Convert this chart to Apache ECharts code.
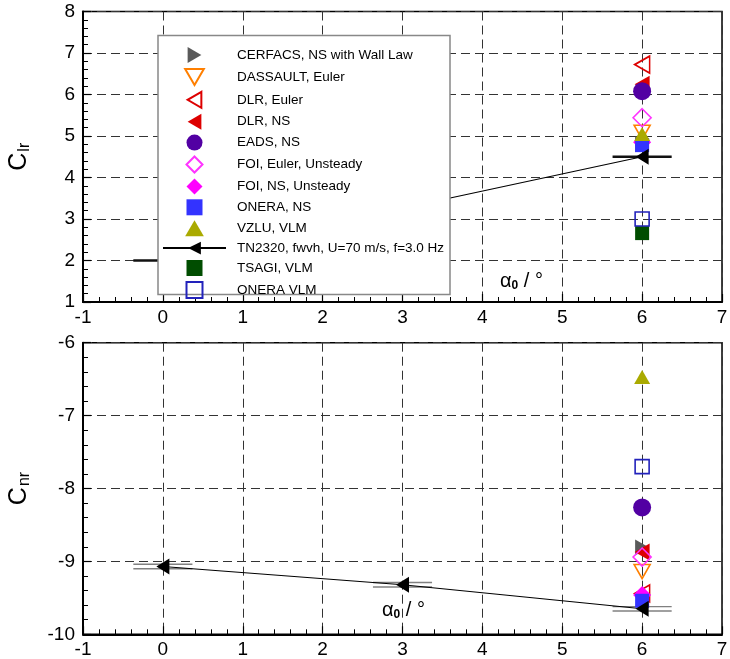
<!DOCTYPE html>
<html>
<head>
<meta charset="utf-8">
<script src="https://cdn.jsdelivr.net/npm/echarts@6/dist/echarts.min.js"></script>
<style>
  html, body { margin: 0; padding: 0; background: #fff; }
  #main { width: 730px; height: 659px; }
</style>
</head>
<body>
<div id="main"></div>
<script>
// TN2320 measurements (three incidences), horizontal error bar on alpha
var alpha = [0, 3, 6];
var tnClr = [2.0, 3.26, 4.5];
var tnCnr = [-9.07, -9.32, -9.65];
var tnAlphaErr = [0.37, 0.37, 0.37];

// partners' results, all at alpha = 6
var partners = ['CERFACS, NS with Wall Law', 'DASSAULT, Euler', 'DLR, Euler', 'DLR, NS',
    'EADS, NS', 'FOI, Euler, Unsteady', 'FOI, NS, Unsteady', 'ONERA, NS', 'VZLU, VLM',
    'TSAGI, VLM', 'ONERA VLM'];
var partnerAlpha = 6;
var partnerClr = [4.8, 5.09, 6.72, 6.25, 6.08, 5.44, 4.85, 4.78, 5.05, 2.66, 3.0];
var partnerCnr = [-8.81, -9.14, -9.44, -8.87, -8.26, -8.94, -9.46, -9.54, -6.47, null, -7.70];
var tnName = 'TN2320, fwvh, U=70 m/s, f=3.0 Hz';
var legendOrder = ['CERFACS, NS with Wall Law', 'DASSAULT, Euler', 'DLR, Euler', 'DLR, NS',
    'EADS, NS', 'FOI, Euler, Unsteady', 'FOI, NS, Unsteady', 'ONERA, NS', 'VZLU, VLM',
    tnName, 'TSAGI, VLM', 'ONERA VLM'];

var FONT = 'Liberation Sans, Arial, sans-serif';
var triRight = 'path://M0,0L12,7L0,14Z';
var triLeft = 'path://M12,0L0,7L12,14Z';
var triDown = 'path://M0,0L14,0L7,12Z';
var triUp = 'path://M7,0L14,12L0,12Z';
var diamond = 'path://M7,0L14,7L7,14L0,7Z';
var square = 'path://M0,0L14,0L14,14L0,14Z';
var clear = 'rgba(255,255,255,0)';

// look of each partner series: [symbol, size, fill, border]
var looks = [
    [triRight, [14, 16], '#5a5a5a', null],
    [triDown, [16, 14], clear, '#ff7f00'],
    [triLeft, [15, 17], clear, '#dd0000'],
    [triLeft, [15, 17], '#dd0000', null],
    ['circle', 18, '#5200a3', null],
    [diamond, 18, clear, '#ff33ff'],
    [diamond, 18, '#ff00ff', null],
    [square, 14, '#3333ff', null],
    [triUp, [16, 14], '#aaaa00', null],
    [square, 14, '#004d00', null],
    [square, 14, clear, '#2222bb']
];

function errBar(offsets, color, width) {
    return function (params, api) {
        var a = api.value(0), v = api.value(1), e = api.value(2);
        var p1 = api.coord([a - e, v]);
        var p2 = api.coord([a + e, v]);
        return {
            type: 'group',
            children: offsets.map(function (o) {
                return {
                    type: 'line',
                    shape: { x1: p1[0], y1: p1[1] + o, x2: p2[0], y2: p2[1] + o },
                    style: { stroke: color, lineWidth: width }
                };
            })
        };
    };
}

function makeXAxis(idx) {
    return {
        type: 'value', gridIndex: idx, min: -1, max: 7, interval: 1,
        axisLine: { show: true, onZero: false, lineStyle: { color: '#000', width: 2 } },
        axisTick: { show: true, inside: true, length: 8, lineStyle: { color: '#000', width: 1.2 } },
        minorTick: { show: true, splitNumber: 5, length: 5, lineStyle: { color: '#000', width: 1 } },
        axisLabel: { color: '#000', fontSize: 19, fontFamily: FONT, margin: 6 },
        splitLine: { show: true, lineStyle: { color: '#333', type: [9, 5], width: 1 } }
    };
}

function makeYAxis(idx, min, max, sub, gap) {
    return {
        type: 'value', gridIndex: idx, min: min, max: max, interval: 1,
        name: '{c|C}{s|' + sub + '}', nameLocation: 'middle', nameRotate: 90, nameGap: gap,
        nameTextStyle: {
            rich: {
                c: { fontSize: 25, fontFamily: FONT, color: '#000' },
                s: { fontSize: 16, fontFamily: FONT, color: '#000', padding: [11, 0, 0, 1] }
            }
        },
        axisLine: { show: true, onZero: false, lineStyle: { color: '#000', width: 2 } },
        axisTick: { show: true, inside: true, length: 8, lineStyle: { color: '#000', width: 1.2 } },
        minorTick: { show: true, splitNumber: 5, length: 5, lineStyle: { color: '#000', width: 1 } },
        axisLabel: { color: '#000', fontSize: 19, fontFamily: FONT, margin: 8 },
        splitLine: { show: true, lineStyle: { color: '#333', type: [9, 5], width: 1 } }
    };
}

var series = [];
[partnerClr, partnerCnr].forEach(function (vals, g) {
    partners.forEach(function (name, i) {
        var look = looks[i];
        if (vals[i] !== null) {
            series.push({
                name: name, type: 'scatter', xAxisIndex: g, yAxisIndex: g,
                symbol: look[0], symbolSize: look[1],
                itemStyle: {
                    color: look[2],
                    borderColor: look[3] || look[2],
                    borderWidth: look[3] ? 1.6 : 0,
                    opacity: 1
                },
                data: [[partnerAlpha, vals[i]]],
                z: 2
            });
        }
        // TN2320 goes in between VZLU and TSAGI, like in the legend
        if (name === 'VZLU, VLM') {
            var tnVals = g === 0 ? tnClr : tnCnr;
            series.push({
                name: 'errbar' + g, type: 'custom', xAxisIndex: g, yAxisIndex: g,
                renderItem: g === 0 ? errBar([0], '#111', 2.4) : errBar([-2.2, 2.2], '#808080', 1.4),
                data: alpha.map(function (a, k) { return [a, tnVals[k], tnAlphaErr[k]]; }),
                encode: { x: 0, y: 1 },
                z: 2
            });
            series.push({
                name: tnName, type: 'line', xAxisIndex: g, yAxisIndex: g,
                symbol: triLeft, symbolSize: [13, 16],
                itemStyle: { color: '#000' },
                lineStyle: { color: '#000', width: 1.1 },
                data: alpha.map(function (a, k) { return [a, tnVals[k]]; }),
                z: 2
            });
        }
    });
});

var alphaText = {
    text: '{a|α}{s|0}{a| / °}', fill: '#000',
    rich: {
        a: { fontSize: 20, fontFamily: FONT, fill: '#000' },
        s: { fontSize: 12, fontWeight: 'bold', fontFamily: FONT, fill: '#000', padding: [9, 0, 0, 0] }
    }
};

var chart = echarts.init(document.getElementById('main'), null, { renderer: 'canvas' });
chart.setOption({
    animation: false,
    backgroundColor: '#fff',
    textStyle: { fontFamily: FONT },
    grid: [
        { left: 83, top: 11.5, width: 639, height: 290.5, show: true, borderColor: '#000', borderWidth: 1.5,
          containLabel: false, outerBoundsMode: 'none' },
        { left: 83, top: 342.7, width: 639, height: 291.6, show: true, borderColor: '#000', borderWidth: 1.5,
          containLabel: false, outerBoundsMode: 'none' }
    ],
    xAxis: [makeXAxis(0), makeXAxis(1)],
    yAxis: [makeYAxis(0, 1, 8, 'lr', 50), makeYAxis(1, -10, -6, 'nr', 50)],
    legend: {
        orient: 'vertical', left: 162, top: 47, padding: 0,
        itemWidth: 63, itemHeight: 16, itemGap: 4.9,
        data: legendOrder,
        selectedMode: false,
        textStyle: { color: '#000', fontSize: 13.5, fontFamily: FONT, padding: [0, 0, 0, 6] },
        z: 4
    },
    graphic: [
        {
            type: 'rect', z: 3,
            shape: { x: 158, y: 35.5, width: 292, height: 259 },
            style: { fill: '#fff', stroke: '#888', lineWidth: 1.5 }
        },
        { type: 'text', left: 500, top: 271, z: 5, style: alphaText },
        { type: 'text', left: 382, top: 600, z: 5, style: alphaText }
    ],
    series: series
});
</script>
</body>
</html>
